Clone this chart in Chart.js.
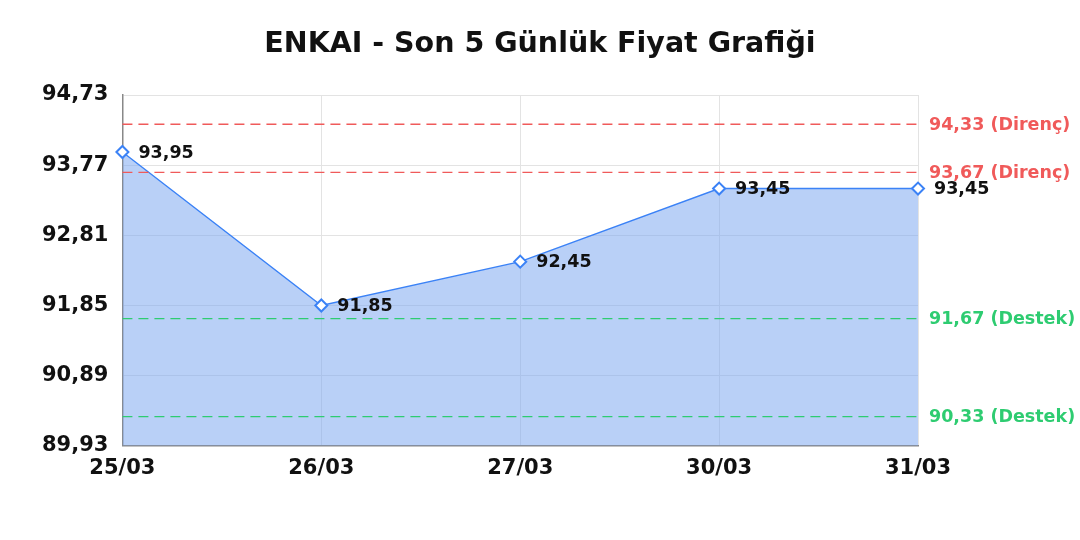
<!DOCTYPE html>
<html>
<head>
<meta charset="utf-8">
<script src="https://cdn.jsdelivr.net/npm/chart.js@4"></script>
<style>
    html, body { margin: 0; padding: 0; background: #fff; }
    #wrap { width: 1080px; height: 540px; }
</style>
</head>
<body>
<div id="wrap"><canvas id="chart"></canvas></div>
<script>
// Data
const labels = ['25/03', '26/03', '27/03', '30/03', '31/03'];
const prices = [93.95, 91.85, 92.45, 93.45, 93.45];
const yTicks = [89.93, 90.89, 91.85, 92.81, 93.77, 94.73];
const resistLevels = [94.33, 93.67];
const supportLevels = [91.67, 90.33];
const titleText = 'ENKAI - Son 5 Günlük Fiyat Grafiği';

// Format number with comma decimal
function fmt(v) {
    return Number(v).toFixed(2).replace('.', ',');
}

// Title centered on the whole canvas (built-in title centers on padded box)
const pageTitle = {
    id: 'pageTitle',
    afterDraw(chart) {
        const ctx = chart.ctx;
        ctx.save();
        ctx.fillStyle = '#111';
        ctx.font = 'bold 28.5px "DejaVu Sans"';
        ctx.textAlign = 'center';
        ctx.textBaseline = 'middle';
        ctx.fillText(titleText, chart.width / 2, 45);
        ctx.restore();
    }
};

// Draw support / resistance lines and their labels
const levelLines = {
    id: 'levelLines',
    afterDatasetsDraw(chart) {
        const ctx = chart.ctx;
        const area = chart.chartArea;
        const y = chart.scales.y;
        const draw = (val, color, text) => {
            const py = y.getPixelForValue(val);
            ctx.save();
            ctx.strokeStyle = color;
            ctx.lineWidth = 1.3;
            ctx.setLineDash([10, 6]);
            ctx.beginPath();
            ctx.moveTo(area.left, py);
            ctx.lineTo(area.right, py);
            ctx.stroke();
            ctx.setLineDash([]);
            ctx.fillStyle = color;
            ctx.font = 'bold 17.5px "DejaVu Sans"';
            ctx.textAlign = 'left';
            ctx.textBaseline = 'middle';
            ctx.fillText(fmt(val) + ' (' + text + ')', area.right + 11, py + 1);
            ctx.restore();
        };
        resistLevels.forEach(v => draw(v, '#f05a5a', 'Direnç'));
        supportLevels.forEach(v => draw(v, '#2ecc71', 'Destek'));
    }
};

// Value labels next to the points
const valueLabels = {
    id: 'valueLabels',
    afterDatasetsDraw(chart) {
        const ctx = chart.ctx;
        const meta = chart.getDatasetMeta(0);
        ctx.save();
        ctx.fillStyle = '#111';
        ctx.font = 'bold 17.5px "DejaVu Sans"';
        ctx.textAlign = 'left';
        ctx.textBaseline = 'middle';
        meta.data.forEach((pt, i) => {
            ctx.fillText(fmt(prices[i]), pt.x + 16, pt.y + 1);
        });
        ctx.restore();
    }
};

new Chart(document.getElementById('chart'), {
    type: 'line',
    data: {
        labels: labels,
        datasets: [{
            data: prices,
            borderColor: '#3b82f6',
            backgroundColor: 'rgba(120, 165, 240, 0.52)',
            borderWidth: 1.4,
            fill: 'start',
            tension: 0,
            pointStyle: 'rectRot',
            pointRadius: 6,
            pointBackgroundColor: '#fff',
            pointBorderColor: '#3b82f6',
            pointBorderWidth: 2
        }]
    },
    options: {
        responsive: true,
        maintainAspectRatio: false,
        animation: false,
        layout: {
            padding: { left: 28, right: 162, top: 95, bottom: 49 }
        },
        plugins: {
            legend: { display: false },
            tooltip: { enabled: false },
            title: { display: false }
        },
        scales: {
            x: {
                offset: false,
                grid: { color: '#e3e3e3', drawTicks: false },
                border: { color: '#888', width: 1.5 },
                ticks: {
                    color: '#111',
                    padding: 10,
                    maxRotation: 0,
                    font: { family: 'DejaVu Sans', size: 21, weight: 'bold' }
                }
            },
            y: {
                min: yTicks[0],
                max: yTicks[yTicks.length - 1],
                afterBuildTicks: function(axis) {
                    axis.ticks = yTicks.map(v => ({ value: v }));
                },
                grid: { color: '#e3e3e3', drawTicks: false },
                border: { color: '#888', width: 1.5 },
                ticks: {
                    color: '#111',
                    padding: 14,
                    font: { family: 'DejaVu Sans', size: 21, weight: 'bold' },
                    callback: function(value) {
                        return fmt(value);
                    }
                }
            }
        }
    },
    plugins: [levelLines, valueLabels, pageTitle]
});
</script>
</body>
</html>
